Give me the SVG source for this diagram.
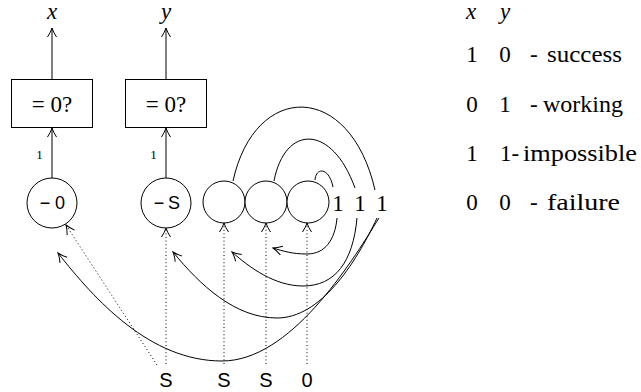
<svg xmlns="http://www.w3.org/2000/svg" width="641" height="392" viewBox="0 0 641 392">
<defs>
<style>
.ln{fill:none;stroke:#000;stroke-width:1}
.dt{fill:none;stroke:#000;stroke-width:1;stroke-dasharray:1 2.6}
.nd{fill:#fff;stroke:#000;stroke-width:1}
</style>
<marker id="ah" viewBox="-11 -6 12 12" refX="0" refY="0" markerWidth="12" markerHeight="12" markerUnits="userSpaceOnUse" orient="auto">
<path d="M-9,-4.5 Q-4,-1.2 0,0 Q-4,1.2 -9,4.5" fill="none" stroke="#000" stroke-width="1" stroke-dasharray="none"/>
</marker>
</defs>
<rect width="641" height="392" fill="#fff"/>

<g id="connectors">
<line class="ln" x1="52" y1="79" x2="52" y2="28" marker-end="url(#ah)"/>
<line class="ln" x1="166" y1="79" x2="166" y2="28" marker-end="url(#ah)"/>
<line class="ln" x1="52" y1="178" x2="52" y2="128" marker-end="url(#ah)"/>
<line class="ln" x1="166" y1="178" x2="166" y2="128" marker-end="url(#ah)"/>
<g font-family="Liberation Serif, Times New Roman, serif" font-size="13" fill="#000">
<text x="39.5" y="159" text-anchor="middle">1</text>
<text x="153.5" y="159" text-anchor="middle">1</text>
</g>
<path class="ln" d="M233,181 C255,81 350,81 375,190"/>
<path class="ln" d="M274,181 C285,124 332,124 355,188"/>
<path class="ln" d="M315,180 C316,167 329,167 333,187"/>
<path class="ln" d="M337,218 C335,240 325,254 307,254 C292,254 283,251 273,248" marker-end="url(#ah)"/>
<path class="ln" d="M357,218 C353,262 335,286 303,286 C275,286 250,268 232,252" marker-end="url(#ah)"/>
<path class="ln" d="M377,218 C355,265 320,318 277,318 C235,318 200,285 173,252" marker-end="url(#ah)"/>
<path class="ln" d="M379,218 C350,265 290,361 222,361 C150,361 95,300 58,253" marker-end="url(#ah)"/>
<line class="dt" x1="166" y1="364" x2="166" y2="228" marker-end="url(#ah)"/>
<line class="dt" x1="224" y1="364" x2="224" y2="223" marker-end="url(#ah)"/>
<line class="dt" x1="266" y1="364" x2="266" y2="223" marker-end="url(#ah)"/>
<line class="dt" x1="307" y1="364" x2="307" y2="223" marker-end="url(#ah)"/>
<line class="dt" x1="157" y1="365" x2="66" y2="225" marker-end="url(#ah)"/>
</g>

<g font-family="Liberation Serif, Times New Roman, serif" font-size="23" fill="#000">
<g id="label-x"><text x="52" y="19" font-style="italic" text-anchor="middle">x</text></g>
<g id="label-y"><text x="166" y="19" font-style="italic" text-anchor="middle">y</text></g>

<g id="box1">
<rect class="nd" x="11.5" y="79.5" width="81" height="48"/>
<text x="52" y="112" text-anchor="middle">= 0?</text>
</g>
<g id="box2">
<rect class="nd" x="125.5" y="79.5" width="81" height="48"/>
<text x="166" y="112" text-anchor="middle">= 0?</text>
</g>
</g>

<g font-family="Liberation Sans, Arial, sans-serif" font-size="18" fill="#000">
<g id="node-neg0">
<circle class="nd" cx="52" cy="203" r="25"/>
<text x="45" y="209" text-anchor="middle">−</text>
<text x="60" y="209" text-anchor="middle">0</text>
</g>
<g id="node-negS">
<circle class="nd" cx="166" cy="203" r="25"/>
<text x="159" y="209" text-anchor="middle">−</text>
<text x="174" y="209" text-anchor="middle">S</text>
</g>
</g>
<g id="node-c1"><circle class="nd" cx="224" cy="202" r="21"/></g>
<g id="node-c2"><circle class="nd" cx="266" cy="202" r="21"/></g>
<g id="node-c3"><circle class="nd" cx="308" cy="202" r="21"/></g>

<g id="ones" font-family="Liberation Serif, Times New Roman, serif" font-size="23" fill="#000">
<text x="338" y="211" text-anchor="middle">1</text>
<text x="360" y="211" text-anchor="middle">1</text>
<text x="382" y="211" text-anchor="middle">1</text>
</g>

<g id="inputs" font-family="Liberation Sans, Arial, sans-serif" font-size="20" fill="#000">
<text x="166" y="387" text-anchor="middle">S</text>
<text x="224" y="387" text-anchor="middle">S</text>
<text x="266" y="387" text-anchor="middle">S</text>
<text x="307" y="387" text-anchor="middle">0</text>
</g>

<g id="table" font-family="Liberation Serif, Times New Roman, serif" font-size="23" fill="#000">
<text x="471" y="19" font-style="italic" text-anchor="middle">x</text>
<text x="505" y="19" font-style="italic" text-anchor="middle">y</text>
<text x="472" y="62" text-anchor="middle">1</text>
<text x="505" y="62" text-anchor="middle">0</text>
<text x="530" y="62">-</text>
<text x="547" y="62" textLength="75" lengthAdjust="spacingAndGlyphs">success</text>
<text x="472" y="112" text-anchor="middle">0</text>
<text x="505" y="112" text-anchor="middle">1</text>
<text x="530" y="112">-</text>
<text x="543" y="112" textLength="80" lengthAdjust="spacingAndGlyphs">working</text>
<text x="472" y="161" text-anchor="middle">1</text>
<text x="500" y="161">1-</text>
<text x="523" y="161" textLength="114" lengthAdjust="spacingAndGlyphs">impossible</text>
<text x="472" y="210" text-anchor="middle">0</text>
<text x="505" y="210" text-anchor="middle">0</text>
<text x="530" y="210">-</text>
<text x="547" y="210" textLength="73" lengthAdjust="spacingAndGlyphs">failure</text>
</g>
</svg>
